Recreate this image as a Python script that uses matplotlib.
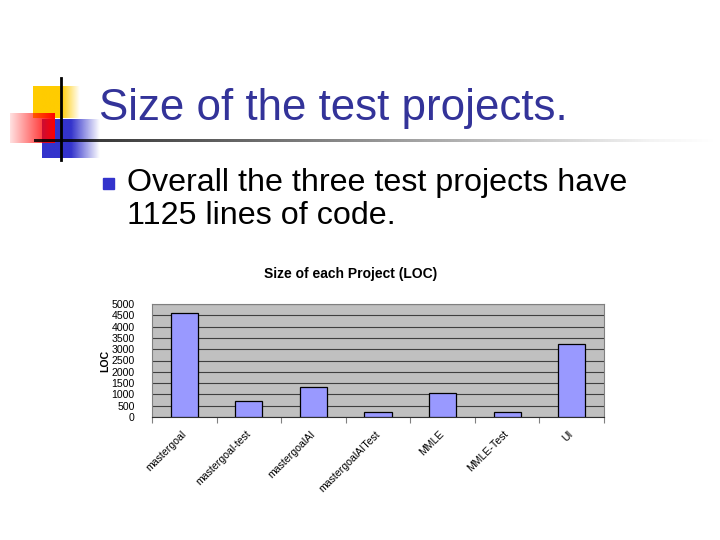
import numpy as np
import matplotlib
matplotlib.use("Agg")
import matplotlib.pyplot as plt
from matplotlib.patches import Rectangle
from matplotlib.colors import to_rgb

plt.rcParams['font.family'] = ['Liberation Sans', 'DejaVu Sans']

# data
projects = ["mastergoal", "mastergoal-test", "mastergoalAI", "mastergoalAITest",
            "MMLE", "MMLE-Test", "UI"]
loc = [4600, 710, 1320, 230, 1060, 240, 3230]
yticks = list(range(0, 5001, 500))

title = "Size of the test projects."
bullet = ["Overall the three test projects have", "1125 lines of code."]
chart_title = "Size of each Project (LOC)"


def grad(ax, x0, x1, y0, y1, color, xs, alphas, z=1):
    # horizontal alpha gradient box, slide pixel coords
    n = 200
    t = np.linspace(0, 1, n)
    a = np.interp(t, xs, alphas)
    img = np.zeros((1, n, 4))
    img[0, :, :3] = to_rgb(color)
    img[0, :, 3] = a
    ax.imshow(img, extent=(x0, x1, y1, y0), aspect='auto',
              interpolation='bilinear', zorder=z)


fig = plt.figure(figsize=(7.2, 5.4), dpi=100)
bg = fig.add_axes([0, 0, 1, 1])
bg.axis('off')

# corner decoration
grad(bg, 33, 80, 86, 118, '#FFCC00', [0, 0.6, 1], [1, 1, 0], z=1)
grad(bg, 42, 100, 119, 158, '#3333CC', [0, 0.5, 1], [1, 1, 0], z=2)
grad(bg, 10, 55, 113, 143, '#FF0000', [0, 1], [0.12, 1], z=3)
grad(bg, 34, 720, 139.5, 142.5, '#000000', [0, 0.3, 0.9, 1], [0.85, 0.6, 0.05, 0.0], z=4)
bg.plot([61, 61], [78, 160], color='black', lw=2, zorder=5)

bg.text(99, 120, title, fontsize=31.6, color='#333399', va='baseline', ha='left')
bg.add_patch(Rectangle((103, 178), 11, 11, color='#3333CC', zorder=5))
bg.text(127, 191, bullet[0], fontsize=23.2, color='black', va='baseline')
bg.text(127, 224, bullet[1], fontsize=23.2, color='black', va='baseline')
bg.text(351, 278, chart_title, fontsize=10, fontweight='bold', ha='center', va='baseline')

bg.set_xlim(0, 720)
bg.set_ylim(540, 0)

# chart
ax = fig.add_axes([152 / 720, 1 - 417 / 540, 452 / 720, 113 / 540])
x = np.arange(len(projects))
ax.bar(x, loc, width=0.42, color='#9999FF', edgecolor='black', lw=0.9, zorder=3)
ax.set_facecolor('#C0C0C0')
ax.set_xlim(-0.5, len(projects) - 0.5)
ax.set_ylim(0, 5000)
ax.set_yticks(yticks)
ax.set_yticklabels([str(v) for v in yticks], fontsize=7.6)
ax.yaxis.grid(True, color='#404040', lw=0.8)
ax.set_axisbelow(True)
ax.set_xticks(x)
ax.set_xticklabels(projects, fontsize=7.6, rotation=45, ha='right', va='center',
                   rotation_mode='anchor')
ax.set_xticks(np.arange(-0.5, len(projects)), minor=True)
ax.tick_params(axis='x', which='major', length=0, pad=11)
ax.tick_params(axis='x', which='minor', length=4, color='#808080', width=0.8)
ax.tick_params(axis='y', length=0, pad=12.5)
for s in ['left', 'top', 'right']:
    ax.spines[s].set_color('#808080')
    ax.spines[s].set_linewidth(0.8)
ax.spines['bottom'].set_color('#303030')
ax.spines['bottom'].set_linewidth(0.8)
ax.set_ylabel("LOC", fontsize=7.6, fontweight='bold')
ax.yaxis.set_label_coords(-0.092, 0.5)

fig.savefig("out.png", dpi=100)
